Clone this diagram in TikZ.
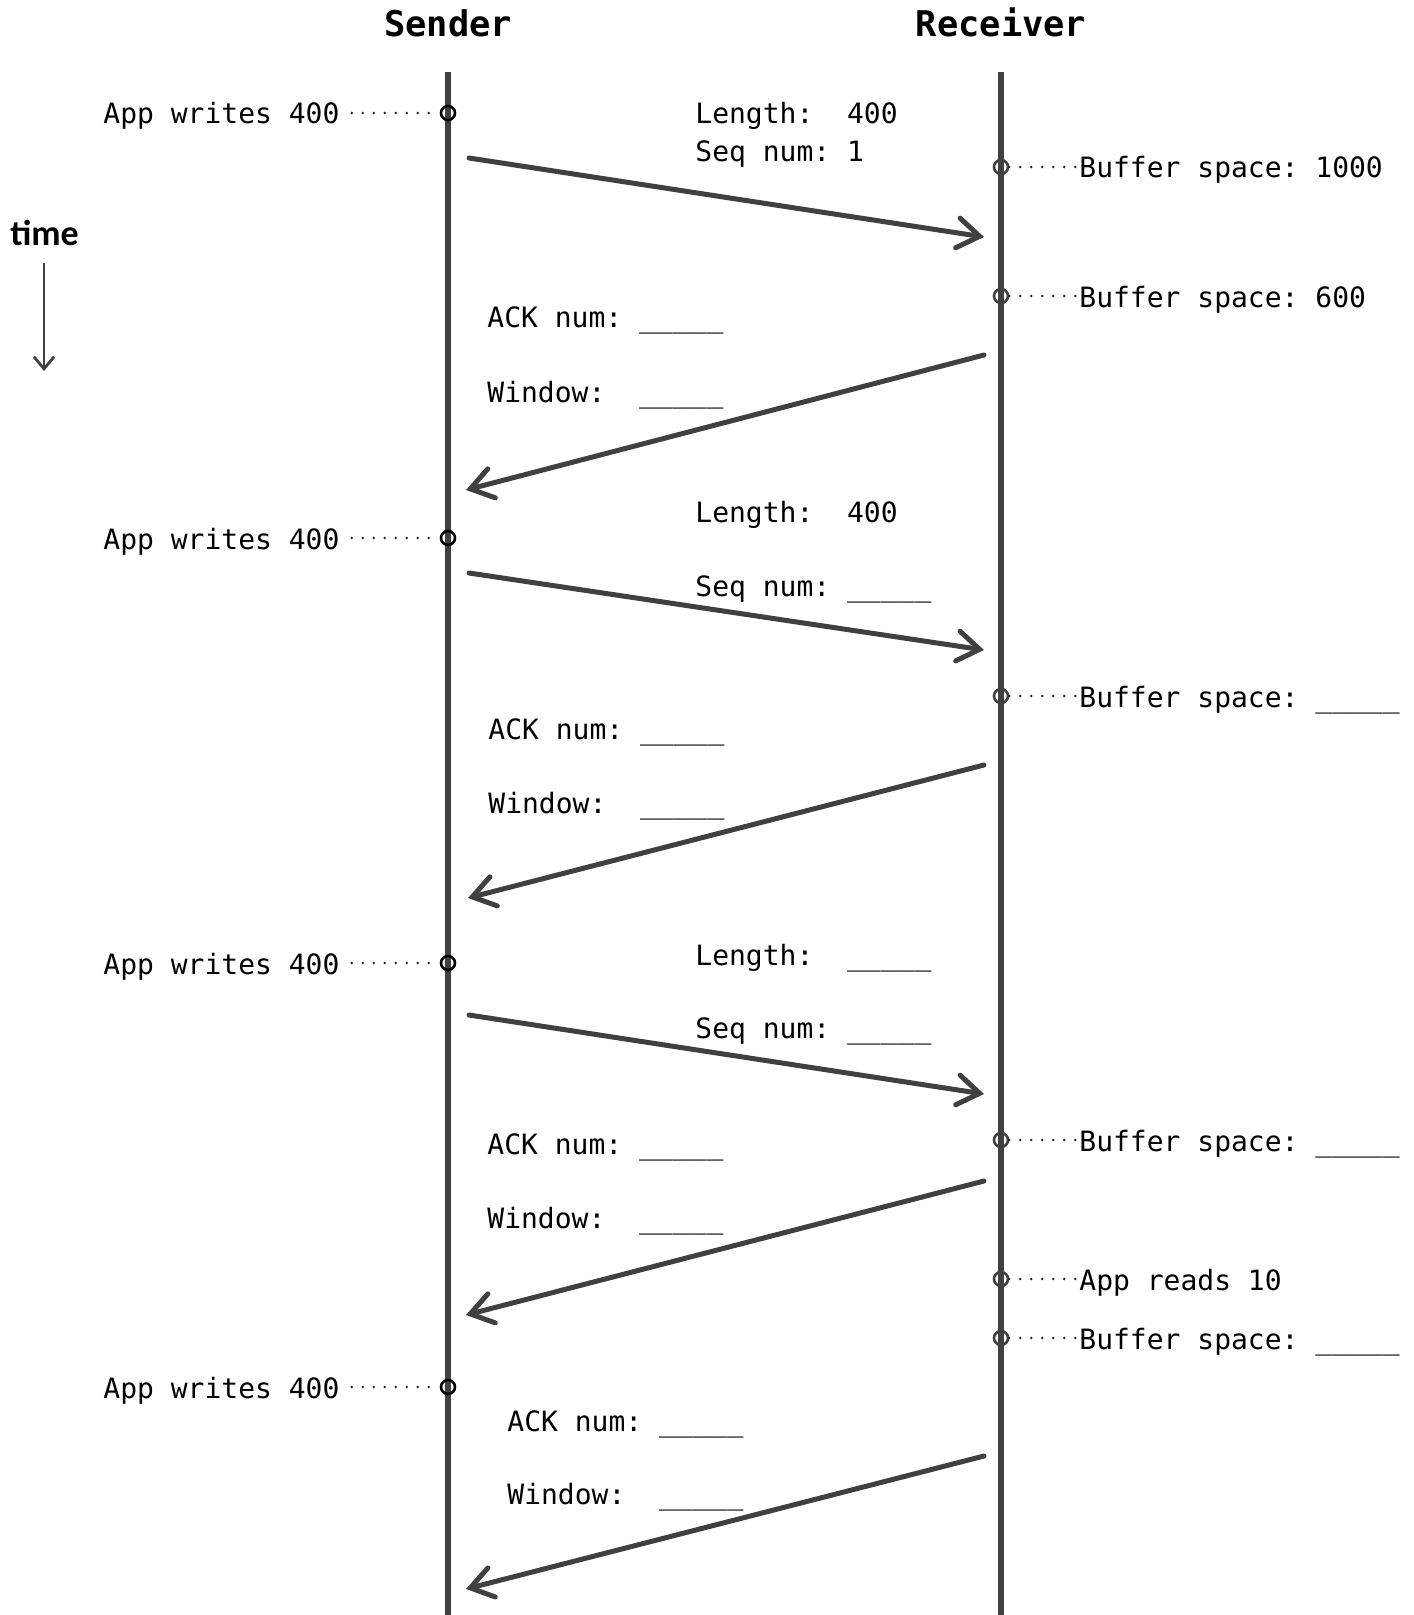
\documentclass[tikz,border=0pt]{standalone}
\usepackage{fontspec}
\setmonofont{DejaVu Sans Mono}
\newfontfamily\timefont{Carlito}
\usetikzlibrary{arrows.meta}
\definecolor{linegray}{HTML}{404040}
\begin{document}
\begin{tikzpicture}[x=0.5pt,y=-0.5pt,
  lbl/.style={font=\ttfamily\fontsize{14pt}{16pt}\selectfont, anchor=base west, inner sep=0pt},
  ttl/.style={font=\ttfamily\bfseries\fontsize{17.7pt}{20pt}\selectfont, anchor=base, inner sep=0pt},
  lifeline/.style={draw=linegray, line width=2.6pt},
  msg/.style={draw=linegray, line width=2.5pt, line cap=round, line join=round,
    -{Straight Barb[length=11pt,width=15pt,line cap=round]}},
  evtS/.style={circle, draw=black, line width=1.3pt, minimum size=7pt, inner sep=0pt},
  evtR/.style={circle, draw=linegray, line width=1.3pt, minimum size=7pt, inner sep=0pt},
  dotlink/.style={draw=black!85, line width=1.4pt, line cap=round, dash pattern=on 0pt off 5.5pt}
]
\useasboundingbox (0,0) rectangle (1413,1615);

% titles
\node[ttl] (sender) at (448,37) {Sender};
\node[ttl] (receiver) at (1001,37) {Receiver};

% lifelines
\coordinate (stop) at (448,72);
\coordinate (sbot) at (448,1615);
\coordinate (rtop) at (1001,72);
\coordinate (rbot) at (1001,1615);
\draw[lifeline] (stop) -- (sbot);
\draw[lifeline] (rtop) -- (rbot);

% time
\node[anchor=base west, inner sep=0pt, font=\timefont\bfseries\fontsize{18pt}{20pt}\selectfont] (time) at (10,246) {time};
\coordinate (t1) at (44,263);
\coordinate (t2) at (44,371);
\draw[draw=linegray, line width=1.4pt, -{Straight Barb[length=6pt,width=10pt]}] (t1) -- (t2);

% sender events
\foreach \i/\y in {1/113, 2/538, 3/963, 4/1387} {
  \node[evtS] (cs\i) at (448,\y) {};
  \node[lbl] (aw\i) at (103,\y+11) {App writes 400};
  \draw[dotlink] ([xshift=6pt]aw\i.east |- cs\i.west) -- (cs\i.west);
}

% receiver events
\foreach \n/\y/\t in {1/167/{Buffer space: 1000}, 2/296/{Buffer space: 600}, 3/696/{Buffer space: \_\_\_\_\_}, 4/1140/{Buffer space: \_\_\_\_\_}, 5/1279/{App reads 10}, 6/1338/{Buffer space: \_\_\_\_\_}} {
  \node[evtR] (cr\n) at (1001,\y) {};
  \node[lbl] (rt\n) at (1079,\y+11) {\t};
  \draw[dotlink] (cr\n.east) -- (rt\n.west |- cr\n.east);
}

% segment labels
\node[lbl] (len1) at (695,124) {Length:\ \ 400};
\node[lbl] (seq1) at (695,162) {Seq num: 1};
\node[lbl] (len2) at (695,522) {Length:\ \ 400};
\node[lbl] (seq2) at (695,596) {Seq num: \_\_\_\_\_};
\node[lbl] (len3) at (695,965) {Length:\ \ \_\_\_\_\_};
\node[lbl] (seq3) at (695,1038) {Seq num: \_\_\_\_\_};

% ack labels
\node[lbl] (ack1) at (487,328) {ACK num: \_\_\_\_\_};
\node[lbl] (win1) at (487,402) {Window:\ \ \_\_\_\_\_};
\node[lbl] (ack2) at (488,739) {ACK num: \_\_\_\_\_};
\node[lbl] (win2) at (488,813) {Window:\ \ \_\_\_\_\_};
\node[lbl] (ack3) at (487,1154) {ACK num: \_\_\_\_\_};
\node[lbl] (win3) at (487,1228) {Window:\ \ \_\_\_\_\_};
\node[lbl] (ack4) at (507,1431) {ACK num: \_\_\_\_\_};
\node[lbl] (win4) at (507,1504) {Window:\ \ \_\_\_\_\_};

% message endpoints
\coordinate (m1a) at (469,158);  \coordinate (m1b) at (984,237);
\coordinate (m2a) at (984,355);  \coordinate (m2b) at (466,490);
\coordinate (m3a) at (469,573);  \coordinate (m3b) at (984,650);
\coordinate (m4a) at (984,765);  \coordinate (m4b) at (468,898);
\coordinate (m5a) at (469,1015); \coordinate (m5b) at (984,1094);
\coordinate (m6a) at (984,1181); \coordinate (m6b) at (466,1315);
\coordinate (m7a) at (984,1456); \coordinate (m7b) at (466,1589);
\foreach \k in {1,...,7} { \draw[msg] (m\k a) -- (m\k b); }
\end{tikzpicture}
\end{document}
